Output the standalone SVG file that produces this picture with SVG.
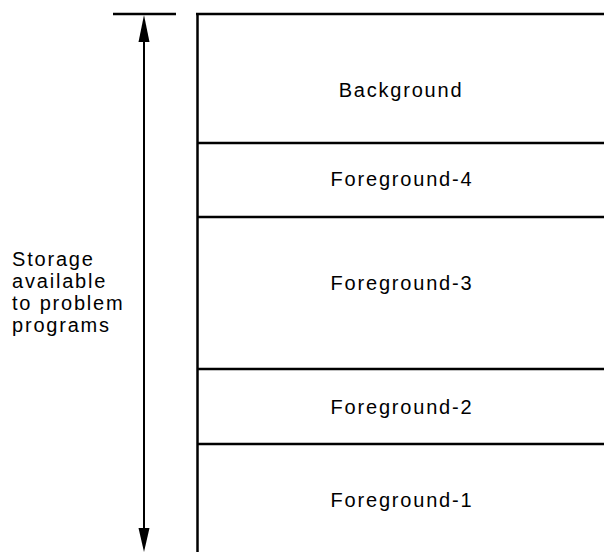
<svg xmlns="http://www.w3.org/2000/svg" width="604" height="552" viewBox="0 0 604 552">
<style>
.ln{stroke:#000;stroke-width:2.5;fill:none}
.sh{stroke:#000;stroke-width:2;fill:none}
.ah{fill:#000;stroke:none}
text{font-family:"Liberation Sans",Arial,sans-serif;font-size:20px;fill:#000;letter-spacing:1.8px}
.c{text-anchor:middle}
</style>
<rect width="604" height="552" fill="#fff"/>
<g id="memory">
<line class="ln" x1="197.5" y1="14" x2="197.5" y2="552"/>
<g id="background"><line class="ln" x1="196" y1="14" x2="604" y2="14"/><text class="c" x="401" y="97">Background</text></g>
<g id="foreground-4"><line class="ln" x1="197" y1="143" x2="604" y2="143"/><text class="c" x="402" y="186">Foreground-4</text></g>
<g id="foreground-3"><line class="ln" x1="197" y1="217" x2="604" y2="217"/><text class="c" x="402" y="290">Foreground-3</text></g>
<g id="foreground-2"><line class="ln" x1="197" y1="369" x2="604" y2="369"/><text class="c" x="402" y="414">Foreground-2</text></g>
<g id="foreground-1"><line class="ln" x1="197" y1="444" x2="604" y2="444"/><text class="c" x="402" y="507">Foreground-1</text></g>
</g>
<g id="label">
<text x="12" y="266">Storage</text>
<text x="12" y="288">available</text>
<text x="12" y="310">to problem</text>
<text x="12" y="332">programs</text>
</g>
<g id="connectors">
<line class="ln" x1="113" y1="14" x2="176" y2="14"/>
<line class="sh" x1="144" y1="40" x2="144" y2="530"/>
<polygon class="ah" points="144,15 138.5,42 149.5,42"/>
<polygon class="ah" points="144,552 138.5,528 149.5,528"/>
</g>
</svg>
